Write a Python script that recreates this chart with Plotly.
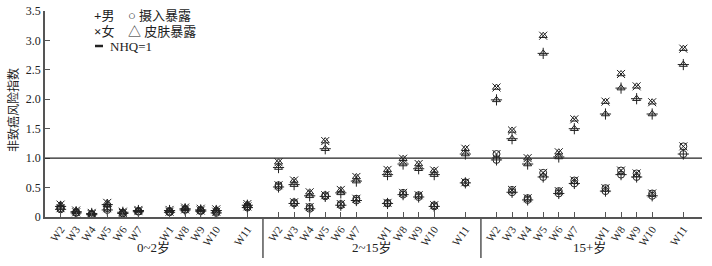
import plotly.graph_objects as go

age_groups = ["0~2岁", "2~15岁", "15+岁"]
sites = ["W2", "W3", "W4", "W5", "W6", "W7", "W1", "W8", "W9", "W10", "W11"]

# values per age group (0~2, 2~15, 15+), each in site order
female_dermal = [
    0.21, 0.11, 0.07, 0.24, 0.09, 0.12, 0.12, 0.16, 0.14, 0.13, 0.22,
    0.93, 0.62, 0.42, 1.29, 0.46, 0.68, 0.80, 0.99, 0.90, 0.79, 1.16,
    2.20, 1.47, 1.00, 3.08, 1.10, 1.66, 1.96, 2.43, 2.22, 1.95, 2.86,
]
male_dermal = [
    0.18, 0.09, 0.06, 0.21, 0.08, 0.11, 0.11, 0.14, 0.12, 0.11, 0.20,
    0.84, 0.55, 0.36, 1.16, 0.41, 0.61, 0.72, 0.90, 0.82, 0.72, 1.07,
    1.99, 1.33, 0.90, 2.78, 1.02, 1.50, 1.75, 2.19, 2.01, 1.75, 2.59,
]
female_ingestion = [
    0.15, 0.08, 0.05, 0.15, 0.07, 0.10, 0.09, 0.13, 0.11, 0.09, 0.18,
    0.54, 0.25, 0.17, 0.37, 0.22, 0.31, 0.24, 0.41, 0.37, 0.20, 0.59,
    1.07, 0.46, 0.32, 0.75, 0.44, 0.62, 0.49, 0.79, 0.74, 0.40, 1.20,
]
male_ingestion = [
    0.13, 0.07, 0.04, 0.12, 0.06, 0.09, 0.08, 0.12, 0.10, 0.07, 0.16,
    0.51, 0.23, 0.14, 0.35, 0.20, 0.28, 0.23, 0.38, 0.34, 0.18, 0.58,
    0.97, 0.42, 0.29, 0.68, 0.40, 0.57, 0.44, 0.72, 0.68, 0.36, 1.07,
]
nhq_threshold = 1.0
y_ticks = [0, 0.5, 1.0, 1.5, 2.0, 2.5, 3.0, 3.5]
y_tick_text = ["0", "0.5", "1.0", "1.5", "2.0", "2.5", "3.0", "3.5"]

# layout of slots (gaps after W7 and W10)
slot_in_group = [1, 2, 3, 4, 5, 6, 8, 9, 10, 11, 13]
group_span = 14
xs = [g * group_span + s for g in range(len(age_groups)) for s in slot_in_group]
tick_text = sites * len(age_groups)

FONT = "Liberation Serif, Times New Roman, Noto Sans CJK SC, serif"
INK = "#222222"

fig = go.Figure()

def add_series(vals, base, over, name):
    fig.add_trace(go.Scatter(
        x=xs, y=vals, mode="markers", name=name, showlegend=False,
        marker=dict(symbol=base, size=7, color=INK, line=dict(color=INK, width=1)),
        hoverinfo="skip"))
    fig.add_trace(go.Scatter(
        x=xs, y=vals, mode="markers", name=name, showlegend=False,
        marker=dict(symbol=over, size=8, color=INK, line=dict(color=INK, width=1)),
        hovertemplate=name + ": %{y}<extra></extra>"))

add_series(female_dermal, "triangle-up-open", "x-thin-open", "女 皮肤暴露")
add_series(male_dermal, "triangle-up-open", "cross-thin-open", "男 皮肤暴露")
add_series(female_ingestion, "circle-open", "x-thin-open", "女 摄入暴露")
add_series(male_ingestion, "circle-open", "cross-thin-open", "男 摄入暴露")

x_max = 42.2
fig.add_shape(type="line", xref="x", yref="y", x0=0, x1=x_max,
              y0=nhq_threshold, y1=nhq_threshold, line=dict(color=INK, width=1.3))

W, H = 712, 266
L, R, T, B = 45, 10, 11, 49
pw, ph = W - L - R, H - T - B

def px(xp):
    return (xp - L) / pw

def py(yp):
    return (H - B - yp) / ph

# group dividers
for g in range(1, len(age_groups)):
    fig.add_shape(type="line", xref="x", yref="paper", x0=g * group_span, x1=g * group_span,
                  y0=0, y1=py(258), line=dict(color="#555555", width=1.5))

for g, label in enumerate(age_groups):
    fig.add_annotation(x=g * group_span + 7, y=py(247), xref="x", yref="paper",
                       text=label, showarrow=False, yanchor="middle",
                       font=dict(family=FONT, size=13, color=INK))

leg_font = dict(family=FONT, size=13, color=INK)
fig.add_annotation(x=px(92), y=py(16), xref="paper", yref="paper", text="<b>+</b>男",
                   showarrow=False, xanchor="left", yanchor="middle", font=leg_font)
fig.add_annotation(x=px(126), y=py(16), xref="paper", yref="paper", text="○ 摄入暴露",
                   showarrow=False, xanchor="left", yanchor="middle", font=leg_font)
fig.add_annotation(x=px(92), y=py(32), xref="paper", yref="paper", text="<b>×</b>女",
                   showarrow=False, xanchor="left", yanchor="middle", font=leg_font)
fig.add_annotation(x=px(126), y=py(32), xref="paper", yref="paper", text="△ 皮肤暴露",
                   showarrow=False, xanchor="left", yanchor="middle", font=leg_font)
fig.add_shape(type="line", xref="paper", yref="paper", x0=px(95), x1=px(103),
              y0=py(46), y1=py(46), line=dict(color=INK, width=2.5))
fig.add_annotation(x=px(108), y=py(46), xref="paper", yref="paper", text="NHQ=1",
                   showarrow=False, xanchor="left", yanchor="middle", font=leg_font)

fig.add_annotation(x=px(13), y=py(110), xref="paper", yref="paper", text="非致癌风险指数",
                   textangle=-90, showarrow=False, xanchor="center", yanchor="middle",
                   font=dict(family=FONT, size=12, color=INK))

fig.update_layout(
    width=W, height=H, margin=dict(l=L, r=R, t=T, b=B, autoexpand=False),
    plot_bgcolor="white", paper_bgcolor="white",
    font=dict(family=FONT, size=12, color=INK),
    showlegend=False,
)
fig.update_xaxes(range=[0, x_max], tickmode="array", tickvals=xs, ticktext=tick_text,
                 tickangle=-55, ticks="inside", ticklen=5, tickcolor="#555555",
                 showline=True, linecolor="#555555", linewidth=1.5, automargin=False,
                 showgrid=False, zeroline=False, tickfont=dict(family=FONT, size=11))
fig.update_yaxes(range=[0, 3.5], tickmode="array", tickvals=y_ticks, ticktext=y_tick_text,
                 ticks="inside", ticklen=5, tickcolor="#555555", automargin=False,
                 showline=True, linecolor="#555555", linewidth=1.5,
                 showgrid=False, zeroline=False, tickfont=dict(family=FONT, size=12))

fig.write_html("out.html", config={"displayModeBar": False},
               post_script="document.body.style.margin='0';document.body.style.overflow='hidden';")
